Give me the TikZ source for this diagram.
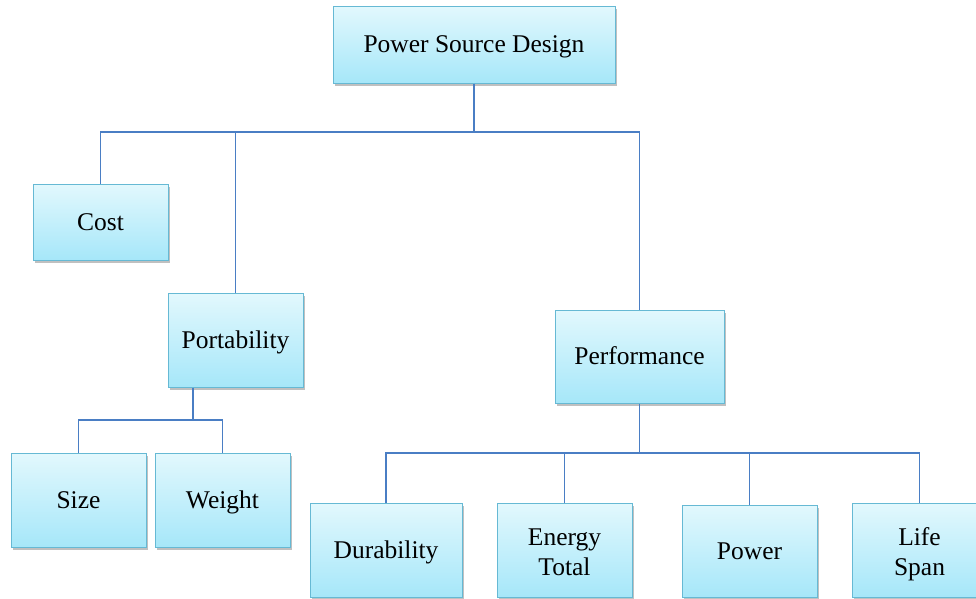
\documentclass[tikz,border=0pt]{standalone}
\usepackage{fontspec}
\setmainfont{Liberation Serif}
\usetikzlibrary{shadows}
\definecolor{boxtop}{HTML}{E2F8FD}
\definecolor{boxbot}{HTML}{A6E7F9}
\definecolor{boxline}{HTML}{66B9D4}
\definecolor{linkcol}{HTML}{4A7EC4}
\tikzset{
  box/.style={draw=boxline, line width=1pt, top color=boxtop, bottom color=boxbot,
    align=center, inner sep=0pt, font=\fontsize{25.5}{30}\selectfont,
    drop shadow={shadow xshift=1.5pt, shadow yshift=-2.5pt, opacity=0.35, fill=black!70}},
  oneline/.style={text height=16.8pt, text depth=0pt},
  twoline/.style={text height=50pt, text depth=0pt},
  link/.style={draw=linkcol, line width=1.2pt}
}
\begin{document}
\begin{tikzpicture}[x=1pt,y=-1pt]
\useasboundingbox (0,0) rectangle (976,598);
\clip (0,0) rectangle (976,598);
\fill[white] (0,0) rectangle (976,598);
% nodes
\node[box, oneline, minimum width=282pt, minimum height=77pt] (top) at (474,44.5) {Power Source Design};
\node[box, oneline, minimum width=135pt, minimum height=76pt] (cost) at (100.5,222) {Cost};
\node[box, oneline, minimum width=135pt, minimum height=94pt] (port) at (235.5,340) {Portability};
\node[box, oneline, minimum width=169pt, minimum height=93pt] (perf) at (639.5,356.5) {Performance};
\node[box, oneline, minimum width=135pt, minimum height=94pt] (size) at (78.5,500) {Size};
\node[box, oneline, minimum width=135pt, minimum height=94pt] (weight) at (222.5,500) {Weight};
\node[box, oneline, minimum width=152pt, minimum height=94pt] (dur) at (386,550) {Durability};
\node[box, twoline, minimum width=135pt, minimum height=94pt] (energy) at (564.5,550) {Energy\\Total};
\node[box, oneline, minimum width=135pt, minimum height=92pt] (power) at (749.5,551) {Power};
\node[box, twoline, minimum width=135pt, minimum height=94pt] (life) at (919.5,550) {Life\\Span};
% junctions
\coordinate (j1) at (474,132);
\coordinate (j2) at (193,420);
\coordinate (j3) at (639.5,453);
% connectors
\draw[link] (top.south) -- (j1);
\draw[link] (cost.north) |- (j1) -| (perf.north);
\draw[link] (port.north) -- (port.north |- j1);
\draw[link] (port.south -| j2) -- (j2);
\draw[link] (size.north) |- (j2) -| (weight.north);
\draw[link] (perf.south) -- (j3);
\draw[link] (dur.north) |- (j3) -| (life.north);
\draw[link] (energy.north) -- (energy.north |- j3);
\draw[link] (power.north) -- (power.north |- j3);
\end{tikzpicture}
\end{document}
